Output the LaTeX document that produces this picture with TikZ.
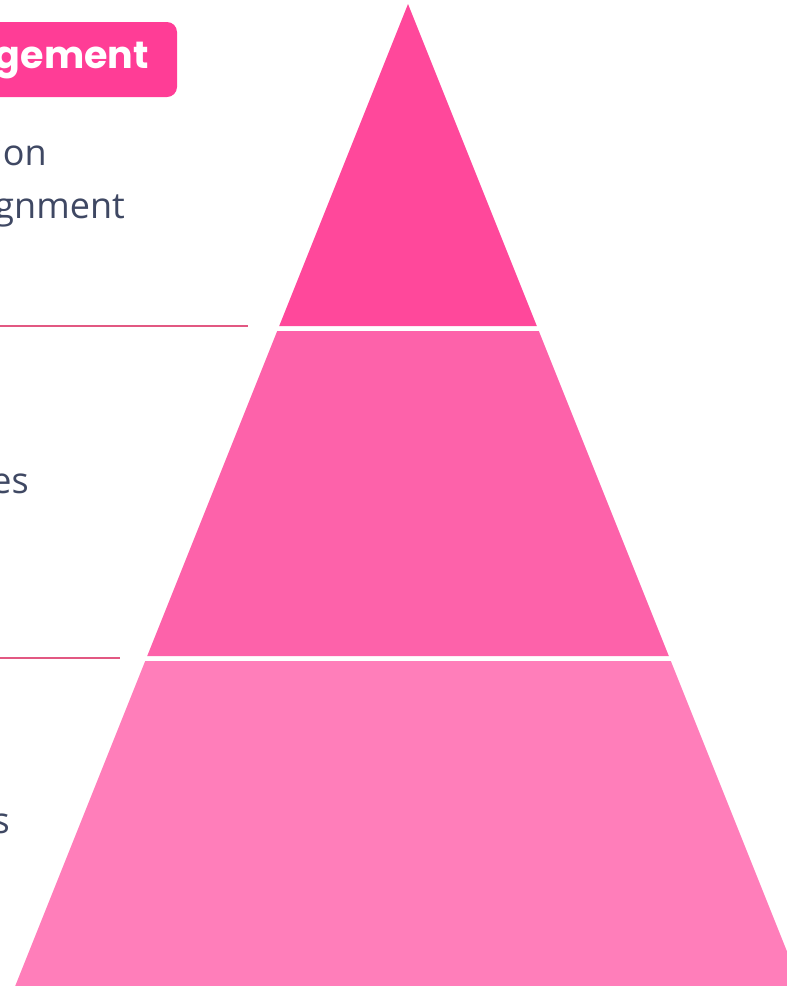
\documentclass[tikz,border=0pt]{standalone}
\usepackage{fontspec}
\setmainfont{Open Sans}
\newfontfamily\headfont{Poppins}
\usepackage{tikz}
\usetikzlibrary{%
    shapes,%
    positioning,%
    calc%
}
\definecolor{tiertop}{RGB}{255,72,155}
\definecolor{tiermid}{RGB}{253,98,170}
\definecolor{tierlow}{RGB}{255,126,186}
\definecolor{badgepink}{RGB}{255,61,150}
\definecolor{rulepink}{RGB}{226,88,130}
\definecolor{slate}{RGB}{63,72,99}
\tikzset{
    tier/.style = {draw = none},
    sidetext/.style = {anchor = base east, inner sep = 0pt, text = slate,
        font = \fontsize{36}{44}\selectfont},
    headtext/.style = {anchor = base east, inner sep = 0pt, text = white,
        font = \headfont\bfseries\fontsize{38}{44}\selectfont},
    sep/.style = {draw = rulepink, line width = 2pt}
}

\begin{document}
\begin{tikzpicture}[x=1pt, y=-1pt]
    % Fix the page to the picture size
    \useasboundingbox (0,0) rectangle (787,986);
    \clip (0,0) rectangle (787,986);

    % Define the pyramid vertices
    \coordinate (apex) at (408,4);
    \coordinate (t1l) at (279.2,326);
    \coordinate (t1r) at (536.8,326);
    \coordinate (t2l) at (277.2,331);
    \coordinate (t2r) at (538.8,331);
    \coordinate (b2l) at (147.2,656);
    \coordinate (b2r) at (668.8,656);
    \coordinate (t3l) at (145.2,661);
    \coordinate (t3r) at (670.8,661);
    \coordinate (b3l) at (15.2,986);
    \coordinate (b3r) at (800.8,986);

    % Draw the tiers
    \fill[tier, tiertop] (apex) -- (t1r) -- (t1l) -- cycle;
    \fill[tier, tiermid] (t2l) -- (t2r) -- (b2r) -- (b2l) -- cycle;
    \fill[tier, tierlow] (t3l) -- (t3r) -- (b3r) -- (b3l) -- cycle;

    % Heading badge
    \fill[badgepink, rounded corners = 10pt] (-20,22) rectangle (177,97);
    \node[headtext] (head) at (149,68) {gement};

    % Side texts
    \node[sidetext] (txtA) at (47,165) {ion};
    \node[sidetext] (txtB) at (125,218) {gnment};
    \node[sidetext] (txtC) at (29,493) {es};
    \node[sidetext] (txtD) at (10,833) {s};

    % Separator rules
    \coordinate (s1a) at (0,326);
    \coordinate (s1b) at (248,326);
    \coordinate (s2a) at (0,658);
    \coordinate (s2b) at (120,658);
    \draw[sep] (s1a) -- (s1b);
    \draw[sep] (s2a) -- (s2b);
\end{tikzpicture}
\end{document}
